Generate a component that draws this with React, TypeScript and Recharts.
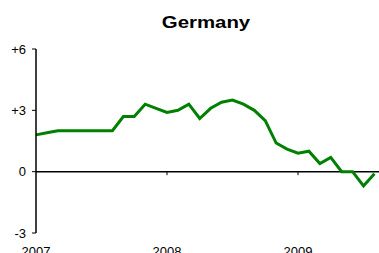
import { LineChart, Line, XAxis, YAxis, ReferenceLine } from "recharts";

// monthly values, Jan 2007 .. Aug 2009
const months = [
  "2007-01", "2007-02", "2007-03", "2007-04", "2007-05", "2007-06",
  "2007-07", "2007-08", "2007-09", "2007-10", "2007-11", "2007-12",
  "2008-01", "2008-02", "2008-03", "2008-04", "2008-05", "2008-06",
  "2008-07", "2008-08", "2008-09", "2008-10", "2008-11", "2008-12",
  "2009-01", "2009-02", "2009-03", "2009-04", "2009-05", "2009-06",
  "2009-07", "2009-08",
];
const values = [
  1.8, 1.9, 2.0, 2.0, 2.0, 2.0, 2.0, 2.0, 2.7, 2.7, 3.3, 3.1,
  2.9, 3.0, 3.3, 2.6, 3.1, 3.4, 3.5, 3.3, 3.0, 2.5, 1.4, 1.1,
  0.9, 1.0, 0.4, 0.7, 0.0, 0.0, -0.7, -0.1,
];
const yearTicks = [0, 12, 24, 36];
const yearLabels = ["2007", "2008", "2009", "2010"];
const valueTicks = [-3, 0, 3, 6];

const data = months.map((m, i) => ({ m: i, label: m, v: values[i] }));

const font = "'Liberation Sans', Arial, sans-serif";

export default function App() {
  return (
    <div
      style={{
        position: "absolute",
        left: 0,
        top: 0,
        width: 379,
        height: 253,
        overflow: "hidden",
        background: "#fff",
        fontFamily: font,
      }}
    >
      <div
        style={{
          position: "absolute",
          left: 0,
          top: 11,
          width: 412,
          textAlign: "center",
          fontSize: 17,
          lineHeight: "24px",
          fontWeight: "bold",
          color: "#000",
          transform: "scaleX(1.2)",
        }}
      >
        Germany
      </div>
      <LineChart
        width={440}
        height={285}
        data={data}
        margin={{ top: 49, right: 11, left: 0, bottom: 22 }}
      >
        <XAxis
          dataKey="m"
          type="number"
          domain={[0, 36]}
          ticks={yearTicks}
          tickFormatter={(v) => yearLabels[yearTicks.indexOf(v)]}
          axisLine={false}
          tickLine={false}
          tickSize={6}
          tickMargin={8}
          height={30}
          tick={{ fill: "#000", fontSize: 13, fontFamily: font }}
        />
        <YAxis
          domain={[-3, 6]}
          ticks={valueTicks}
          width={36}
          tickFormatter={(v) => (v > 0 ? `+${v}` : `${v}`)}
          axisLine={{ stroke: "#000", strokeWidth: 1.5 }}
          tickLine={{ stroke: "#000", strokeWidth: 1 }}
          tickSize={4}
          tickMargin={6}
          tick={{ fill: "#000", fontSize: 13, fontFamily: font }}
        />
        <ReferenceLine y={0} stroke="#000" strokeWidth={1.5} />
        {yearTicks.slice(1).map((t) => (
          <ReferenceLine
            key={t}
            segment={[
              { x: t, y: 0 },
              { x: t, y: -0.17 },
            ]}
            stroke="#000"
            strokeWidth={1}
          />
        ))}
        <Line
          type="linear"
          dataKey="v"
          stroke="#008000"
          strokeWidth={3}
          dot={false}
          isAnimationActive={false}
        />
      </LineChart>
    </div>
  );
}
